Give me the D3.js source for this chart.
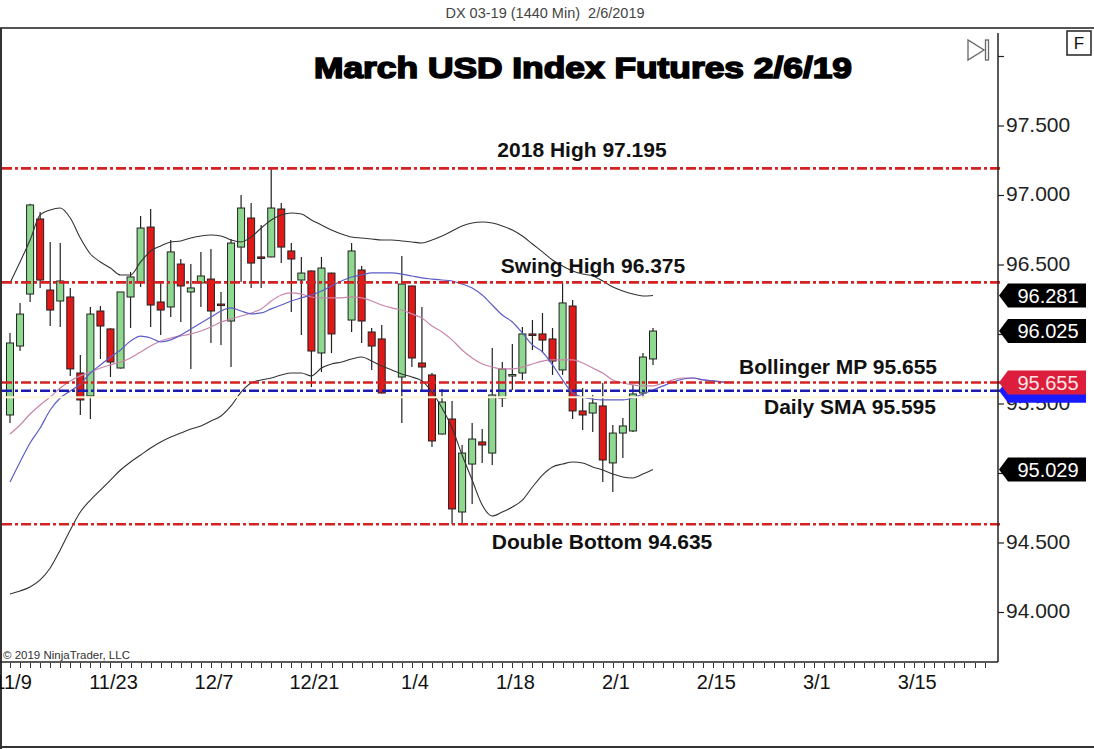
<!DOCTYPE html>
<html>
<head>
<meta charset="utf-8">
<script src="https://d3js.org/d3.v7.min.js"></script>
<style>
  body { margin: 0; background: #fff; }
  text { font-family: "Liberation Sans", Arial, sans-serif; }
</style>
</head>
<body>
<svg id="chart" width="1094" height="749"></svg>
<script>
// daily bars DX 03-19
var candleDates = [
  "2018-11-08","2018-11-09","2018-11-12","2018-11-13","2018-11-14","2018-11-15","2018-11-16",
  "2018-11-19","2018-11-20","2018-11-21","2018-11-22","2018-11-23","2018-11-26","2018-11-27",
  "2018-11-28","2018-11-29","2018-11-30","2018-12-03","2018-12-04","2018-12-05","2018-12-06",
  "2018-12-07","2018-12-10","2018-12-11","2018-12-12","2018-12-13","2018-12-14","2018-12-17",
  "2018-12-18","2018-12-19","2018-12-20","2018-12-21","2018-12-24","2018-12-26","2018-12-27",
  "2018-12-28","2018-12-31","2019-01-02","2019-01-03","2019-01-04","2019-01-07","2019-01-08",
  "2019-01-09","2019-01-10","2019-01-11","2019-01-14","2019-01-15","2019-01-16","2019-01-17",
  "2019-01-18","2019-01-21","2019-01-22","2019-01-23","2019-01-24","2019-01-25","2019-01-28",
  "2019-01-29","2019-01-30","2019-01-31","2019-02-01","2019-02-04","2019-02-05","2019-02-06"
];
var opens = [95.421,95.917,96.291,96.831,96.320,96.241,96.270,95.723,95.558,96.169,
  96.040,95.759,96.270,96.378,96.773,96.234,96.198,96.507,96.306,96.371,
  96.399,96.219,96.097,96.629,96.838,96.558,96.558,96.903,96.601,96.392,
  96.457,95.867,96.442,96.104,96.464,96.018,95.968,95.694,96.349,95.795,
  95.709,95.284,95.392,94.723,95.068,95.227,95.147,95.543,95.709,95.723,
  96.004,96.004,95.968,95.745,96.205,95.450,95.435,95.486,95.076,95.291,
  95.306,95.579,95.824];
var highs = [96.011,96.227,96.940,96.881,96.665,96.658,96.335,95.853,96.198,96.205,
  96.045,96.306,96.450,96.853,96.903,96.378,96.680,96.543,96.507,96.594,
  96.615,96.306,96.687,97.004,96.946,96.788,97.195,96.946,96.658,96.558,
  96.460,96.558,96.445,96.658,96.493,96.047,96.068,96.565,96.352,96.198,
  95.723,95.608,95.522,95.205,95.363,95.320,95.903,95.802,95.932,96.054,
  96.104,96.155,96.047,96.375,96.248,95.615,95.565,95.651,95.349,95.399,
  95.637,95.867,96.047];
var lows = [95.363,95.881,96.234,96.335,96.061,96.054,95.701,95.421,95.392,95.824,
  95.694,95.755,96.047,96.342,96.054,95.996,96.126,96.090,95.752,96.198,
  95.939,95.924,95.766,96.378,96.335,96.335,96.555,96.514,96.162,95.996,
  95.622,95.730,95.867,96.018,95.939,95.745,95.575,95.363,95.766,95.601,
  95.191,95.280,94.635,94.635,94.781,95.076,95.061,95.478,95.601,95.673,
  95.888,95.874,95.709,95.709,95.392,95.313,95.299,94.939,94.867,95.112,
  95.299,95.543,95.781];
var closes = [95.939,96.147,96.932,96.392,96.176,96.385,95.752,95.529,96.147,96.061,
  95.802,96.306,96.414,96.766,96.212,96.176,96.594,96.349,96.335,96.421,
  96.169,96.215,96.658,96.910,96.514,96.555,96.910,96.629,96.543,96.442,
  95.881,96.478,96.004,96.601,96.097,95.917,95.579,96.363,95.831,95.766,
  95.234,95.514,94.745,95.147,95.248,95.205,95.565,95.752,95.712,96.004,
  96.001,95.960,95.809,96.227,95.450,95.421,95.507,95.097,95.291,95.342,
  95.572,95.838,96.025];

// indicator values per weekday slot (slot 0 = 2018-11-08)
var bbUpper = [96.370,96.522,96.680,96.860,96.896,96.910,96.838,96.694,96.579,96.522,
  96.478,96.428,96.428,96.522,96.601,96.637,96.666,96.673,96.694,96.709,
  96.716,96.709,96.680,96.666,96.701,96.766,96.824,96.860,96.874,96.867,
  96.824,96.788,96.752,96.723,96.701,96.694,96.687,96.680,96.680,96.673,
  96.666,96.658,96.680,96.709,96.745,96.781,96.802,96.809,96.802,96.781,
  96.752,96.709,96.651,96.594,96.536,96.493,96.457,96.435,96.421,96.385,
  96.342,96.313,96.291,96.277,96.281];
var bbLower = [94.133,94.155,94.184,94.234,94.320,94.450,94.594,94.723,94.809,94.881,
  94.953,95.025,95.083,95.133,95.184,95.227,95.263,95.291,95.320,95.342,
  95.378,95.414,95.486,95.586,95.651,95.673,95.687,95.709,95.723,95.723,
  95.702,95.759,95.788,95.802,95.824,95.838,95.809,95.773,95.745,95.716,
  95.694,95.666,95.586,95.471,95.327,95.133,94.953,94.773,94.694,94.723,
  94.759,94.809,94.903,94.989,95.047,95.068,95.083,95.076,95.047,95.025,
  94.996,94.975,94.968,94.996,95.029];
var bbMid = [95.284,95.349,95.428,95.493,95.550,95.615,95.666,95.702,95.730,95.759,
  95.781,95.802,95.831,95.874,95.917,95.953,95.975,95.989,96.004,96.025,
  96.054,96.090,96.112,96.133,96.155,96.184,96.241,96.284,96.299,96.291,
  96.270,96.263,96.263,96.263,96.270,96.263,96.241,96.212,96.191,96.176,
  96.148,96.119,96.061,96.018,95.961,95.889,95.831,95.788,95.766,95.752,
  95.752,95.766,95.788,95.809,95.817,95.817,95.817,95.795,95.759,95.723,
  95.673,95.651,95.637,95.630,95.630,95.651,95.673,95.687,95.687,95.673,
  95.666,95.658,95.655];
var smaLine = [94.939,95.083,95.219,95.327,95.457,95.543,95.594,95.644,95.723,95.781,
  95.838,95.889,95.953,95.989,95.975,95.946,95.961,95.996,96.040,96.083,
  96.126,96.169,96.191,96.169,96.148,96.155,96.184,96.212,96.241,96.263,
  96.284,96.313,96.349,96.385,96.414,96.428,96.443,96.443,96.443,96.435,
  96.421,96.407,96.399,96.392,96.385,96.363,96.335,96.284,96.212,96.140,
  96.090,96.011,95.925,95.874,95.781,95.673,95.579,95.550,95.536,95.529,
  95.529,95.529,95.543,95.572,95.601,95.630,95.658,95.680,95.687,95.673,
  95.666,95.658,95.655];

var levelValues = [97.195, 96.375, 95.655, 94.635];
var levelLabels = ["2018 High 97.195", "Swing High 96.375", "Bollinger MP 95.655", "Double Bottom 94.635"];
var smaLevel = 95.595;
var smaLabel = "Daily SMA 95.595";
var paleLevel = 95.548;

// 96.000 and 95.000 sit under the price markers and are not shown
var priceTicks = [94.0, 94.5, 95.0, 95.5, 96.0, 96.5, 97.0, 97.5, 98.0];
var priceTickLabels = ["94.000", "94.500", "", "95.500", "", "96.500", "97.000", "97.500", ""];
var dateTicks = ["2018-11-09","2018-11-23","2018-12-07","2018-12-21","2019-01-04",
  "2019-01-18","2019-02-01","2019-02-15","2019-03-01","2019-03-15"];

var markerValues = [96.281, 96.025, 95.595, 95.655, 95.029];
var markerKinds = ["last", "last", "sma", "mid", "last"];

var titleText = "March USD Index Futures 2/6/19";
var headerText = "DX 03-19 (1440 Min)  2/6/2019";

// ---------------------------------------------------------------
var svg = d3.select("#chart");
var W = 1094, H = 749;
var plotRight = 998, plotTop = 29, plotBottom = 662;

var parse = d3.timeParse("%Y-%m-%d");
var fmt = d3.timeFormat("%Y-%m-%d");
var fmtTick = d3.timeFormat("%-m/%-d");

// weekday slots, holidays keep their slot but have no bar
var slots = d3.timeDay.range(parse("2018-11-08"), parse("2019-03-30"))
  .filter(function(d) { return d.getDay() > 0 && d.getDay() < 6; });
var slotIndex = {};
slots.forEach(function(d, i) { slotIndex[fmt(d)] = i; });

var x = d3.scaleLinear().domain([0, 64]).range([10, 653]);
var y = d3.scaleLinear().domain([94.0, 97.5]).range([612.5, 126]);

// frame
svg.append("rect").attr("width", W).attr("height", H).attr("fill", "#fff");
svg.append("text").attr("x", 545).attr("y", 18).attr("text-anchor", "middle")
  .attr("font-size", 14.5).attr("fill", "#444").attr("xml:space", "preserve").text(headerText);
svg.append("line").attr("x1", 0).attr("x2", W).attr("y1", 28).attr("y2", 28)
  .attr("stroke", "#555").attr("stroke-width", 2);
svg.append("line").attr("x1", 1).attr("x2", 1).attr("y1", 28).attr("y2", H)
  .attr("stroke", "#333").attr("stroke-width", 2);
svg.append("line").attr("x1", 0).attr("x2", W).attr("y1", 747).attr("y2", 747)
  .attr("stroke", "#333").attr("stroke-width", 2);

svg.append("defs").append("clipPath").attr("id", "plot")
  .append("rect").attr("x", 2).attr("y", plotTop).attr("width", plotRight - 2).attr("height", plotBottom - plotTop);

var plot = svg.append("g").attr("clip-path", "url(#plot)");

// candles
var bars = candleDates.map(function(d, i) {
  return { slot: slotIndex[d], o: opens[i], h: highs[i], l: lows[i], c: closes[i] };
});
var bodyW = 7;
var cg = plot.append("g");
cg.selectAll("line.wick").data(bars).enter().append("line")
  .attr("x1", function(d) { return x(d.slot); })
  .attr("x2", function(d) { return x(d.slot); })
  .attr("y1", function(d) { return y(d.h); })
  .attr("y2", function(d) { return y(d.l); })
  .attr("stroke", "#222").attr("stroke-width", 1.2);
cg.selectAll("rect.body").data(bars).enter().append("rect")
  .attr("x", function(d) { return x(d.slot) - bodyW / 2; })
  .attr("width", bodyW)
  .attr("y", function(d) { return y(Math.max(d.o, d.c)); })
  .attr("height", function(d) { return Math.max(Math.abs(y(d.o) - y(d.c)), 1.5); })
  .attr("fill", function(d) { return d.c >= d.o ? "#8fd890" : "#e01818"; })
  .attr("stroke", "#222").attr("stroke-width", 1);

// indicator lines
function drawLine(vals, color, width) {
  plot.append("path")
    .datum(vals)
    .attr("fill", "none")
    .attr("stroke", color)
    .attr("stroke-width", width)
    .attr("d", d3.line().x(function(d, i) { return x(i); }).y(function(d) { return y(d); }).curve(d3.curveMonotoneX));
}
drawLine(bbUpper, "#333", 1.1);
drawLine(bbLower, "#333", 1.1);
drawLine(bbMid, "#c884a8", 1.2);
drawLine(smaLine, "#5c5cc8", 1.2);

// horizontal levels
function drawLevel(v, color, w, dash) {
  svg.append("line").attr("x1", 2).attr("x2", plotRight + 2)
    .attr("y1", y(v)).attr("y2", y(v))
    .attr("stroke", color).attr("stroke-width", w)
    .attr("stroke-dasharray", dash);
}
drawLevel(paleLevel, "#fdf7d8", 2, null);
levelValues.forEach(function(v) { drawLevel(v, "#d42222", 2.6, "10,3,3,3"); });
drawLevel(smaLevel, "#1c1cb0", 2.6, "10,3,3,3");

// level captions
var capFont = 21;
function caption(txt, cx, cy) {
  svg.append("text").attr("x", cx).attr("y", cy).attr("text-anchor", "middle")
    .attr("font-size", capFont).attr("font-weight", "bold").attr("fill", "#111").text(txt);
}
caption(levelLabels[0], 582, y(levelValues[0]) - 11);
caption(levelLabels[1], 593, y(levelValues[1]) - 9);
caption(levelLabels[2], 838, y(levelValues[2]) - 8);
caption(smaLabel, 850, y(smaLevel) + 23);
caption(levelLabels[3], 602, y(levelValues[3]) + 25);

// title
svg.append("text").attr("x", 583).attr("y", 78).attr("text-anchor", "middle")
  .attr("font-size", 30).attr("font-weight", "bold").attr("fill", "#000")
  .attr("stroke", "#000").attr("stroke-width", 1.6)
  .attr("textLength", 538).attr("lengthAdjust", "spacingAndGlyphs")
  .text(titleText);

// right price axis
svg.append("line").attr("x1", plotRight).attr("x2", plotRight).attr("y1", 33).attr("y2", plotBottom)
  .attr("stroke", "#222").attr("stroke-width", 1.5);
var pa = svg.append("g");
priceTicks.forEach(function(v, i) {
  pa.append("line").attr("x1", plotRight).attr("x2", plotRight + 6)
    .attr("y1", y(v)).attr("y2", y(v)).attr("stroke", "#222").attr("stroke-width", 1.2);
  if (priceTickLabels[i]) {
    pa.append("text").attr("x", 1006).attr("y", y(v) - 2).attr("dy", "0.36em")
      .attr("font-size", 21).attr("fill", "#222").text(priceTickLabels[i]);
  }
});

// price markers
var markerFill = { last: "#000", sma: "#1a1aff", mid: "#dc1e3c" };
var markerText = { last: "#fff", sma: "#fff", mid: "#ffe4e4" };
markerValues.forEach(function(v, i) {
  var yc = y(v), k = markerKinds[i];
  var pts = [[999, yc], [1008, yc - 12], [1086, yc - 12], [1086, yc + 12], [1008, yc + 12]];
  svg.append("polygon").attr("points", pts.map(function(p) { return p.join(","); }).join(" "))
    .attr("fill", markerFill[k]);
  if (k != "sma") {
    svg.append("text").attr("x", 1048).attr("y", yc).attr("dy", "0.36em").attr("text-anchor", "middle")
      .attr("font-size", 20).attr("fill", markerText[k]).text(v.toFixed(3));
  }
});

// bottom date axis
svg.append("line").attr("x1", 0).attr("x2", plotRight).attr("y1", plotBottom).attr("y2", plotBottom)
  .attr("stroke", "#222").attr("stroke-width", 1.5);
var da = svg.append("g");
da.selectAll("line").data(slots.map(function(d, i) { return i; }).filter(function(i) { return x(i) < 993; }))
  .enter().append("line")
  .attr("x1", function(i) { return Math.round(x(i)) + 0.5; })
  .attr("x2", function(i) { return Math.round(x(i)) + 0.5; })
  .attr("y1", plotBottom + 1).attr("y2", plotBottom + 6)
  .attr("stroke", "#333").attr("stroke-width", 1);
da.selectAll("text").data(dateTicks).enter().append("text")
  .attr("x", function(d) { return x(slotIndex[d]) - 7; })
  .attr("y", 689)
  .attr("text-anchor", "middle").attr("font-size", 20).attr("fill", "#111")
  .text(function(d) { return fmtTick(parse(d)); });

svg.append("text").attr("x", 3).attr("y", 659).attr("font-size", 11.5).attr("fill", "#333")
  .text("\u00a9 2019 NinjaTrader, LLC");

// toolbar icons
svg.append("polygon").attr("points", "968,40 968,60 984,50")
  .attr("fill", "#fff").attr("stroke", "#666").attr("stroke-width", 1.3);
svg.append("rect").attr("x", 985.5).attr("y", 40).attr("width", 3).attr("height", 20)
  .attr("fill", "#fff").attr("stroke", "#666").attr("stroke-width", 1.3);
svg.append("rect").attr("x", 1067).attr("y", 31).attr("width", 24).attr("height", 24)
  .attr("fill", "#fff").attr("stroke", "#222").attr("stroke-width", 1.5);
svg.append("text").attr("x", 1079).attr("y", 49).attr("text-anchor", "middle")
  .attr("font-size", 17).attr("fill", "#111").text("F");
</script>
</body>
</html>
